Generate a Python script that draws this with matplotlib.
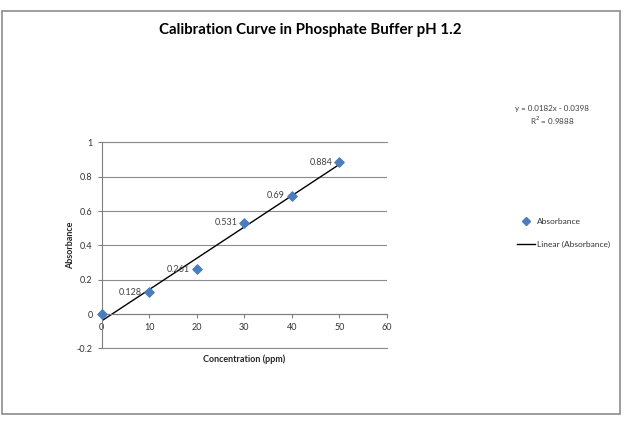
import numpy as np
import matplotlib

matplotlib.use('Agg')
import matplotlib.pyplot as plt
from matplotlib.lines import Line2D
from matplotlib.patches import Rectangle

plt.rcParams['font.family'] = ['Lato', 'DejaVu Sans']

concentration = [0, 10, 20, 30, 40, 50]
absorbance = [0, 0.128, 0.261, 0.531, 0.69, 0.884]
point_labels = ['', '0.128', '0.261', '0.531', '0.69', '0.884']

slope, intercept = np.polyfit(concentration, absorbance, 1)
pred = np.polyval([slope, intercept], concentration)
r2 = 1 - np.sum((np.array(absorbance) - pred) ** 2) / np.sum((np.array(absorbance) - np.mean(absorbance)) ** 2)

fig = plt.figure(figsize=(6.27, 4.26), dpi=100)
fig.patches.append(Rectangle((2 / 627, 1 - 414 / 426), 617.5 / 627, 403 / 426,
                             transform=fig.transFigure, fill=False,
                             edgecolor='#8c8c8c', linewidth=1.2))

ax = fig.add_axes([0.162, 0.182, 0.455, 0.484])

color = '#4a7ebb'
ax.scatter(concentration, absorbance, marker='D', s=22, color=color, zorder=3, clip_on=False)
xs = np.array([min(concentration), max(concentration)])
ax.plot(xs, slope * xs + intercept, color='black', linewidth=1, zorder=2)

for x, y, lab in zip(concentration, absorbance, point_labels):
    if lab:
        ax.annotate(lab, (x, y), xytext=(-5, 0), textcoords='offset points',
                    ha='right', va='center', fontsize=6.5, color='#404040')

ax.set_xlim(0, 60)
ax.set_ylim(-0.2, 1)
ax.set_xticks(range(0, 61, 10))
ax.set_yticks(np.arange(-0.2, 1.01, 0.2))
ax.set_yticklabels(['-0.2', '0', '0.2', '0.4', '0.6', '0.8', '1'])
ax.grid(axis='y', color='#8c8c8c', linewidth=0.8)
ax.axhline(-0.2, color='#8c8c8c', linewidth=0.8, zorder=0, clip_on=False)
ax.axhline(1, color='#8c8c8c', linewidth=0.8, zorder=0, clip_on=False)
ax.set_axisbelow(True)

for side in ['top', 'right']:
    ax.spines[side].set_visible(False)
ax.spines['bottom'].set_position(('data', 0))
ax.spines['bottom'].set_color('#7f7f7f')
ax.spines['left'].set_color('#7f7f7f')
ax.tick_params(axis='both', labelsize=6.5, colors='#7f7f7f', labelcolor='#333333', length=3)

ax.text(0.5, -0.05, 'Concentration (ppm)', transform=ax.transAxes,
        ha='center', va='center', fontsize=6.5, fontweight='bold', color='#262626')
ax.set_ylabel('Absorbance', fontsize=6.5, fontweight='bold', color='#262626', labelpad=1)

fig.text(310 / 627, 1 - 30 / 426, 'Calibration Curve in Phosphate Buffer pH 1.2',
         ha='center', va='center', fontsize=10.8, fontweight='bold', color='black')

fig.text(552 / 627, 1 - 108 / 426, f'y = {slope:.4f}x - {abs(intercept):.4f}',
         ha='center', va='center', fontsize=5.8, color='#404040')
fig.text(552 / 627, 1 - 121 / 426, f'R$^2$ = {r2:.4f}',
         ha='center', va='center', fontsize=5.8, color='#404040')

handles = [Line2D([], [], marker='D', linestyle='none', color=color, markersize=4),
           Line2D([], [], color='black', linewidth=1)]
fig.legend(handles, ['Absorbance', 'Linear (Absorbance)'],
           loc='center left', bbox_to_anchor=(509 / 627, 1 - 233 / 426),
           frameon=False, fontsize=6, handlelength=2.2, labelspacing=1.9,
           handletextpad=0.3, labelcolor='#333333')

fig.savefig('out.png', dpi=100)
